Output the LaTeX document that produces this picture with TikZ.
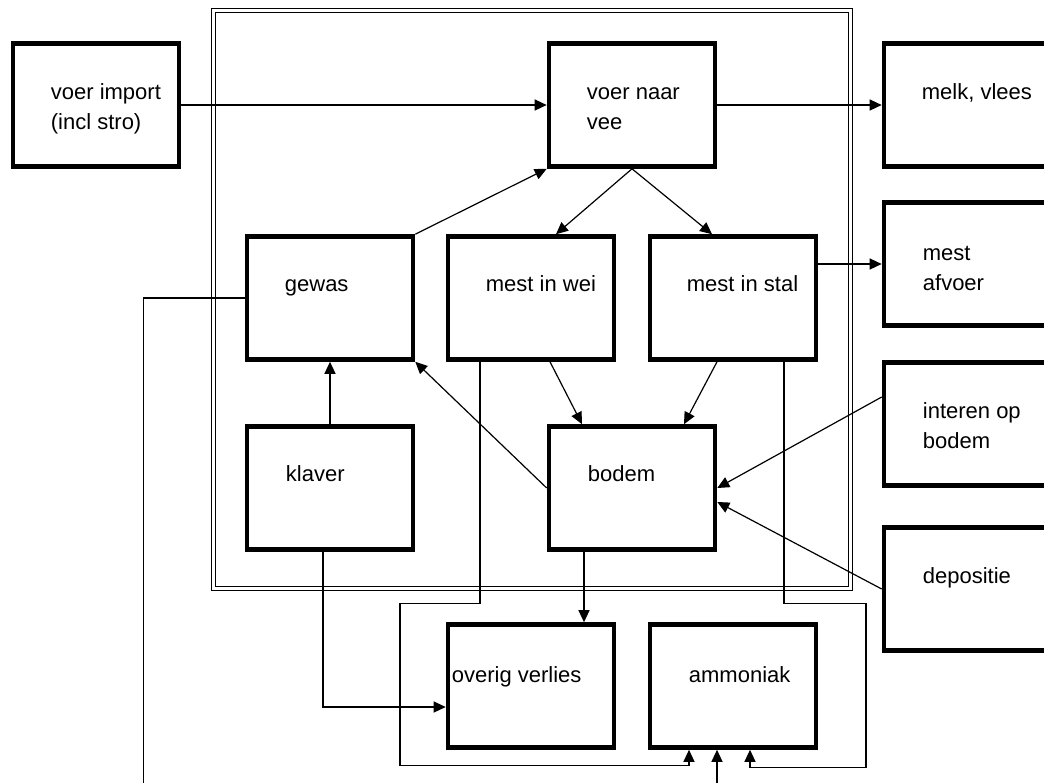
\documentclass[tikz,border=0pt]{standalone}
\usepackage{fontspec}
\setmainfont{Liberation Sans}
\usetikzlibrary{arrows.meta}

\begin{document}
\begin{tikzpicture}[x=1pt, y=-1pt, >={Triangle[length=12pt,width=11pt]},
  blok/.style={draw, line width=4.6pt, minimum width=166pt, minimum height=123pt, inner sep=0pt},
  tekst/.style={anchor=base west, align=left, inner sep=0pt, font=\fontsize{22}{30}\selectfont},
  pijl/.style={->, line width=1.2pt}]
  \useasboundingbox (0,0) rectangle (1044,782);
  \clip (0,0) rectangle (1044,782);

  % dubbel kader rond het bedrijf
  \draw[line width=0.9pt] (211,8) rectangle (852,590);
  \draw[line width=0.9pt] (215,12) rectangle (848,586);

  % blokken
  \node[blok] (voerimport) at (96,105) {};
  \node[blok] (voervee)    at (632,105) {};
  \node[blok] (melk)       at (967,105) {};
  \node[blok] (gewas)      at (330,298) {};
  \node[blok] (mestwei)    at (531,298) {};
  \node[blok] (meststal)   at (733,298) {};
  \node[blok] (mestafvoer) at (967,264) {};
  \node[blok] (klaver)     at (330,488) {};
  \node[blok] (bodem)      at (632,488) {};
  \node[blok] (interen)    at (967,424) {};
  \node[blok] (depositie)  at (967,589) {};
  \node[blok] (overig)     at (531,686) {};
  \node[blok] (ammoniak)   at (733,686) {};

  % teksten (base = laatste regel)
  \node[tekst] (voerimport-t) at ([shift={(40,88)}]voerimport.north west) {voer import\\(incl stro)};
  \node[tekst] (voervee-t)    at ([shift={(40,88)}]voervee.north west) {voer naar\\vee};
  \node[tekst] (melk-t)       at ([shift={(40,58)}]melk.north west) {melk, vlees};
  \node[tekst] (gewas-t)      at ([shift={(40,57)}]gewas.north west) {gewas};
  \node[tekst] (mestwei-t)    at ([shift={(40,57)}]mestwei.north west) {mest in wei};
  \node[tekst] (meststal-t)   at ([shift={(39,57)}]meststal.north west) {mest in stal};
  \node[tekst] (mestafvoer-t) at ([shift={(41,90)}]mestafvoer.north west) {mest\\afvoer};
  \node[tekst] (klaver-t)     at ([shift={(41,57)}]klaver.north west) {klaver};
  \node[tekst] (bodem-t)      at ([shift={(41,57)}]bodem.north west) {bodem};
  \node[tekst] (interen-t)    at ([shift={(41,88)}]interen.north west) {interen op\\bodem};
  \node[tekst] (depositie-t)  at ([shift={(41,58)}]depositie.north west) {depositie};
  \node[tekst] (overig-t)     at ([shift={(6,60)}]overig.north west) {overig verlies};
  \node[tekst] (ammoniak-t)   at ([shift={(41,60)}]ammoniak.north west) {ammoniak};

  % stromen
  \draw[pijl] (voerimport) -- (voervee);
  \draw[pijl] (voervee) -- (melk);
  \draw[pijl] (gewas.north east) -- (voervee.south west);
  \draw[pijl] (voervee.south) -- ([xshift=25pt]mestwei.north);
  \draw[pijl] (voervee.south) -- ([xshift=-21pt]meststal.north);
  \draw[pijl] (mestafvoer.west -| meststal.east) -- (mestafvoer.west);
  \draw[pijl] (klaver.north) -- (gewas.south);
  \draw[pijl] (bodem.west) -- (gewas.south east);
  \draw[pijl] ([xshift=19pt]mestwei.south) -- ([xshift=-50pt]bodem.north);
  \draw[pijl] ([xshift=-16pt]meststal.south) -- ([xshift=52pt]bodem.north);
  \draw[pijl] ([yshift=27pt]interen.west) -- (bodem.east);
  \draw[pijl] (depositie.west) -- ([yshift=-14pt]bodem.east);
  \draw[pijl] ([xshift=-48pt]bodem.south) -- ([xshift=-48pt]bodem.south |- overig.north);
  \draw[pijl] ([xshift=-7pt]klaver.south) |- ([yshift=-21pt]overig.west);
  % verliezen naar ammoniak
  \draw[pijl] ([xshift=-51pt]mestwei.south) -- ++(0,242) -| ++(-80,162) -| ([xshift=-44pt]ammoniak.south);
  \draw[pijl] ([xshift=51pt]meststal.south) -- ++(0,242) -| ++(82,164) -| ([xshift=17pt]ammoniak.south);
  \draw[pijl] (gewas.west) -| ++(-101,500) -| ([xshift=-16pt]ammoniak.south);
\end{tikzpicture}
\end{document}
